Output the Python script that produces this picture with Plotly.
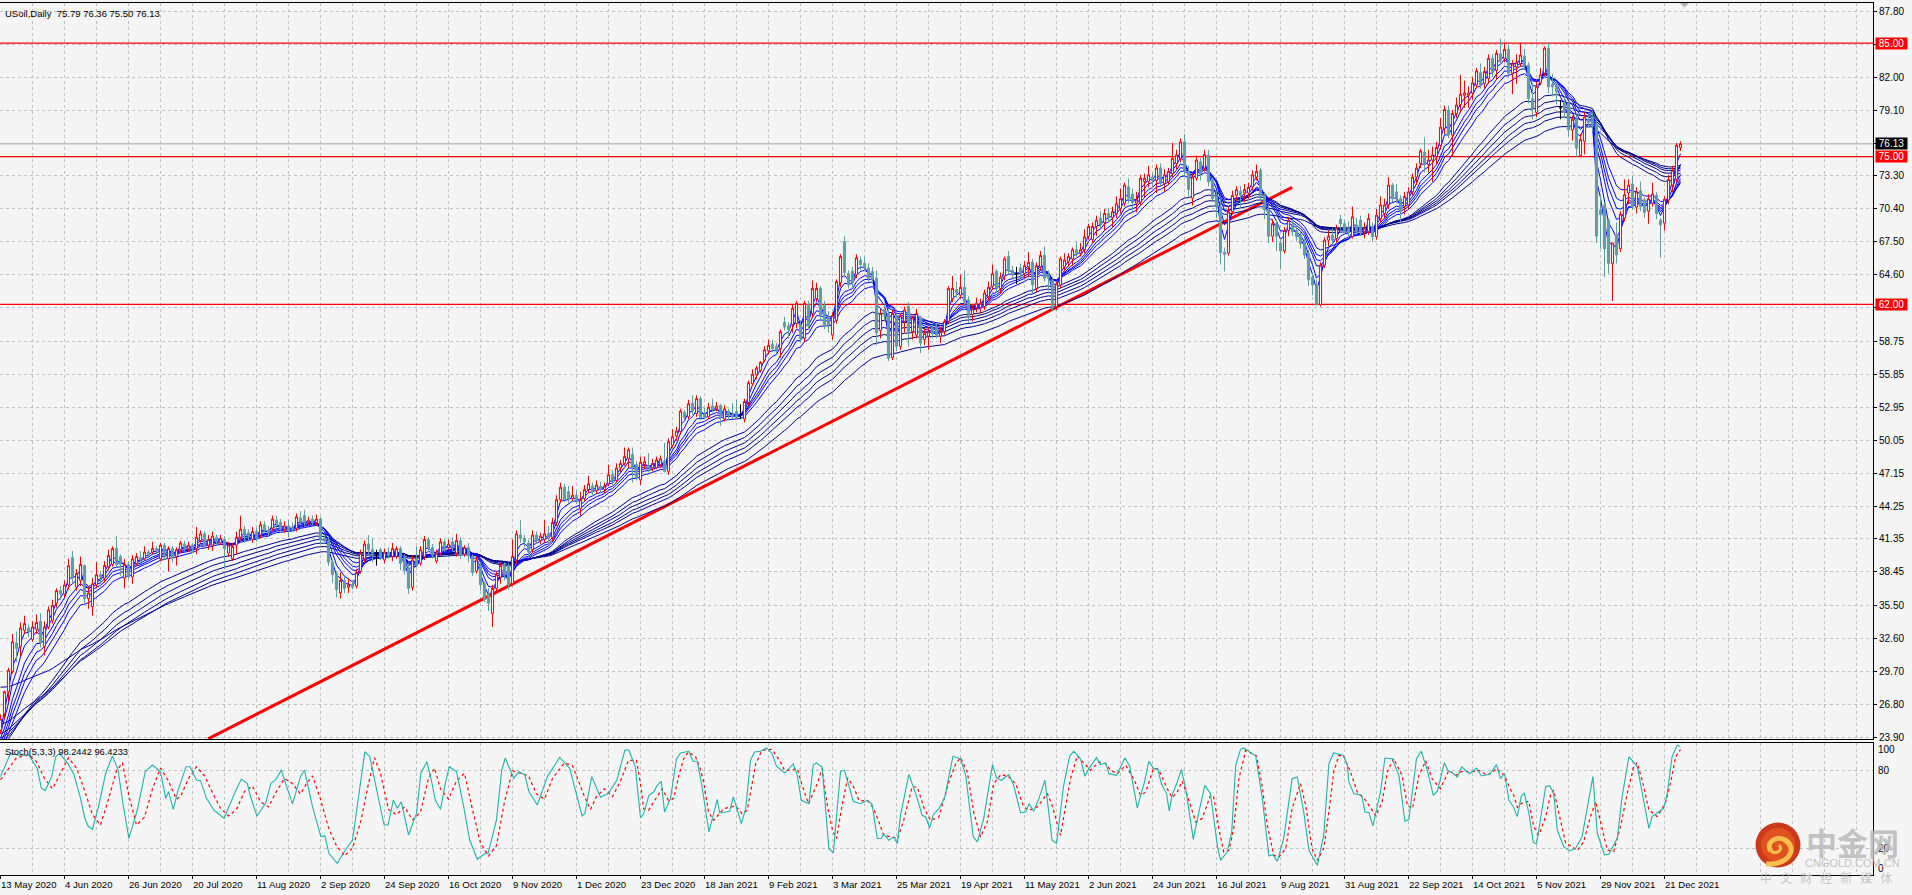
import plotly.graph_objects as go

# Daily USOIL candles, one entry per trading session
opens = [
    24.5,26.0,27.9,29.7,32.2,31.9,33.3,33.5,32.5,33.4,
    34.1,31.9,33.6,34.2,35.7,36.8,36.5,37.3,39.7,37.1,
    37.7,39.0,36.1,35.4,37.3,38.2,37.9,38.9,39.1,40.5,
    39.8,37.9,39.1,38.0,39.2,39.7,39.6,40.2,40.2,40.5,
    39.6,40.8,39.6,40.5,39.8,40.4,40.9,40.5,40.8,40.5,
    41.2,41.8,40.8,40.8,41.5,41.0,41.3,40.1,39.6,40.8,
    41.5,42.2,41.9,41.3,42.0,41.7,42.6,42.1,42.3,43.0,
    42.8,42.2,42.5,42.4,42.3,43.2,43.4,42.8,43.1,42.8,
    43.1,41.4,41.2,39.3,38.3,36.6,37.7,37.1,37.3,37.2,
    38.5,39.6,40.9,40.4,40.0,40.4,39.5,40.2,39.8,39.8,
    40.5,39.7,38.8,37.1,39.6,39.2,39.8,41.3,40.6,39.4,
    40.1,41.1,40.6,41.1,40.1,41.2,40.0,40.6,39.8,38.5,
    39.0,37.4,36.5,34.8,37.0,38.0,39.0,39.0,37.4,39.5,
    41.7,41.4,41.0,40.4,41.7,41.2,41.3,41.8,41.5,42.8,
    44.8,45.9,45.5,44.9,45.2,44.0,44.9,45.7,46.0,45.6,
    46.0,45.7,46.2,47.0,46.5,47.6,48.0,48.45,48.8,47.9,
    46.55,47.9,47.85,47.6,47.6,47.9,48.2,47.3,49.6,50.4,
    50.8,52.5,52.1,53.3,52.4,53.7,52.35,52.1,53.05,52.8,
    53.1,51.9,52.6,52.3,52.55,52.3,51.9,53.35,55.0,55.8,
    56.2,57.1,57.9,58.5,58.3,58.1,60.4,60.1,60.2,60.3,
    60.2,59.0,62.0,61.2,62.5,63.4,61.9,60.9,59.3,60.6,
    63.9,67.5,64.7,64.9,64.6,65.9,65.6,65.2,64.9,64.3,
    59.7,61.5,61.2,57.3,60.9,58.3,60.5,61.8,59.6,59.3,
    60.8,58.9,59.2,59.9,60.0,59.2,59.6,60.5,62.5,63.3,
    62.8,63.5,62.4,61.1,61.7,61.7,61.8,62.7,63.6,64.9,
    63.4,64.5,66.2,65.0,64.7,65.2,64.7,65.3,65.7,63.4,
    65.3,66.3,64.6,64.1,61.8,63.7,65.3,65.8,66.0,66.8,
    66.5,66.8,68.0,67.7,68.85,69.6,69.2,70.0,69.65,70.0,
    70.45,70.9,72.35,71.7,70.9,71.0,72.8,72.8,73.2,72.9,
    74.0,72.65,72.8,73.5,74.4,74.85,76.3,73.7,71.35,73.1,
    74.55,74.0,75.15,72.95,71.5,70.6,66.6,66.5,70.15,71.6,
    71.95,71.8,71.8,72.35,73.2,73.8,71.6,70.3,68.0,69.1,
    67.4,66.7,68.5,69.0,68.5,68.1,67.5,66.5,64.4,63.7,
    61.95,65.45,67.65,68.1,67.8,69.5,69.1,68.7,67.95,69.0,
    69.4,68.4,68.4,68.85,67.95,69.55,70.0,70.75,72.5,71.9,
    71.3,70.6,70.75,71.9,73.2,74.4,75.4,74.3,74.7,75.0,
    76.0,77.5,79.1,76.9,78.8,79.6,80.4,80.4,80.6,81.3,
    82.4,81.45,81.9,83.65,82.6,84.05,83.65,84.45,82.35,82.9,
    83.2,83.85,83.05,80.1,78.9,81.5,82.35,84.55,81.35,81.3,
    79.3,79.8,79.7,77.35,78.3,75.1,76.35,78.3,78.5,77.9,
    70.3,70.75,69.4,65.6,68.1,66.9,69.6,71.8,72.6,70.55,
    72.0,71.2,70.2,70.9,71.6,69.4,69.15,71.2,72.5,73.0,75.79,
]
highs = [
    25.9,28.0,30.0,33.0,33.2,34.0,34.6,33.8,34.1,34.7,
    34.8,34.1,35.4,36.0,37.0,37.2,37.7,39.6,40.3,38.7,
    39.8,39.1,37.2,37.9,39.3,38.5,39.4,40.4,40.7,41.6,
    40.0,39.6,39.4,39.9,40.1,40.3,40.7,40.4,41.1,40.7,
    41.0,41.0,40.7,40.7,40.6,41.2,41.2,41.1,41.0,42.4,
    42.1,42.0,41.7,42.0,41.7,41.7,41.6,41.1,41.0,42.0,
    43.4,42.5,42.2,42.4,42.3,42.9,42.9,42.5,43.4,43.4,
    43.1,42.9,43.0,42.8,43.6,43.8,43.9,43.3,43.4,43.5,
    43.3,41.7,41.6,39.5,38.5,38.4,38.0,37.9,37.6,38.7,
    40.4,41.2,41.7,41.4,40.4,40.6,40.5,40.6,41.0,40.7,
    40.7,40.0,39.2,39.9,40.7,40.7,41.6,41.5,40.9,40.4,
    41.4,41.3,41.3,41.5,41.8,41.5,40.8,41.0,40.0,39.8,
    39.3,37.6,37.0,37.3,38.5,39.2,39.3,39.2,41.3,42.1,
    43.0,41.7,41.3,42.1,42.0,41.9,43.0,42.5,43.2,45.2,
    46.3,46.2,46.0,46.0,45.6,45.5,46.1,46.9,46.3,46.5,
    46.4,46.3,47.9,47.4,48.0,48.3,49.4,49.4,49.4,48.2,
    48.6,48.6,48.9,48.4,48.6,48.7,49.8,50.2,51.0,51.2,
    52.8,52.7,53.6,54.0,54.0,53.9,52.9,53.3,53.7,53.4,
    53.2,53.1,52.8,53.3,53.6,53.2,53.7,55.3,56.3,56.6,
    57.0,58.3,58.9,58.9,58.6,59.8,60.9,60.4,62.0,62.3,
    60.6,62.3,62.3,64.1,63.9,63.6,62.3,61.4,61.3,64.2,
    66.4,68.0,65.0,65.3,66.4,66.2,66.2,65.6,65.3,65.0,
    61.6,62.0,61.5,61.5,61.2,61.2,61.8,62.2,61.0,61.6,
    61.0,59.9,60.0,60.2,60.3,60.0,60.7,63.6,64.5,64.0,
    64.6,65.0,62.7,62.0,62.6,62.5,63.3,64.0,65.5,65.1,
    64.8,66.2,66.7,65.4,65.3,65.6,65.8,66.6,66.0,65.7,
    66.7,67.1,65.0,64.4,64.0,66.2,66.5,66.5,67.0,67.5,
    67.4,68.6,69.1,69.2,69.8,70.2,70.4,70.5,70.6,71.5,
    72.2,72.7,73.1,72.2,71.9,73.4,73.5,74.2,73.6,74.3,
    74.4,73.9,74.0,76.2,75.6,76.6,77.0,74.2,73.5,75.1,
    74.9,75.6,75.6,73.2,72.0,71.3,67.0,70.6,72.0,72.4,
    72.4,72.6,72.7,73.8,74.3,74.0,71.9,70.6,69.5,69.4,
    67.8,68.8,69.7,69.5,69.0,68.4,67.8,66.8,64.8,64.2,
    65.7,67.9,68.5,68.7,69.0,69.9,69.4,69.3,70.6,69.6,
    69.8,69.2,70.0,69.2,70.4,71.5,71.3,73.2,72.7,72.6,
    71.6,71.9,72.3,73.5,74.4,75.7,76.7,75.6,75.9,76.3,
    78.4,79.5,79.5,79.1,80.2,82.2,81.7,81.2,82.0,82.8,
    83.2,82.9,84.0,84.0,84.4,85.4,85.0,84.8,83.5,84.0,
    85.0,84.5,83.3,81.5,81.6,82.8,84.7,85.0,82.3,81.6,
    80.0,80.3,79.9,78.6,78.7,77.0,78.9,78.6,78.9,78.2,
    71.7,71.0,69.6,67.4,69.2,70.2,73.0,73.0,73.3,72.3,
    72.8,71.4,71.7,72.7,71.9,69.6,71.5,73.4,74.2,76.2,76.36,
]
lows = [
    24.2,25.5,27.0,29.5,30.5,31.0,33.0,32.7,32.3,33.0,
    31.8,31.1,33.4,33.9,35.3,36.0,36.2,36.9,37.5,36.8,
    37.2,35.7,35.2,34.6,37.0,37.4,37.5,38.6,38.9,38.8,
    38.1,37.0,37.8,37.4,39.0,39.2,39.5,39.7,40.0,40.0,
    39.4,39.5,38.5,39.3,39.0,40.1,40.3,40.2,40.1,40.0,
    41.0,40.5,40.4,40.3,40.8,40.8,38.7,39.8,39.4,40.0,
    41.2,41.0,41.2,41.0,41.1,41.4,41.9,41.7,42.0,42.3,
    41.9,41.9,41.5,42.0,42.0,42.7,42.5,42.6,42.6,42.5,
    40.9,40.9,39.0,37.5,36.2,36.1,36.6,36.6,36.9,37.0,
    38.3,39.3,40.0,39.3,39.0,39.5,39.2,39.6,39.4,39.6,
    38.6,38.2,36.5,36.8,38.9,39.0,39.5,40.2,39.6,39.2,
    39.9,40.2,40.4,40.3,39.8,39.6,39.8,39.3,38.1,38.3,
    36.8,35.8,35.0,33.6,36.6,37.4,37.7,36.9,37.2,39.1,
    41.0,40.6,39.7,40.1,40.9,40.9,41.0,41.0,41.1,42.5,
    44.5,44.6,44.4,44.7,44.4,43.4,44.7,45.4,45.2,45.3,
    45.4,45.4,46.0,46.1,46.3,47.2,47.8,47.6,46.3,46.5,
    46.1,47.5,47.2,47.3,47.5,47.6,47.2,47.0,49.4,50.0,
    50.5,51.8,51.9,52.3,52.1,51.8,51.9,51.9,52.5,52.6,
    51.3,51.7,51.8,51.9,51.9,51.9,51.6,53.1,54.8,55.4,
    56.0,56.9,57.6,57.8,57.6,57.3,59.7,59.0,59.5,59.9,
    58.6,58.7,59.8,60.8,62.2,60.5,59.8,59.5,58.9,60.3,
    63.5,64.4,63.4,63.5,64.3,65.0,65.0,64.0,63.8,58.4,
    59.0,60.5,57.0,57.1,57.9,58.0,59.5,58.3,58.9,59.0,
    57.7,58.4,58.0,59.0,59.0,58.6,59.3,60.3,62.2,62.6,
    62.5,61.9,60.4,60.5,61.3,61.2,61.5,62.3,63.3,63.0,
    62.9,64.1,64.7,64.2,63.8,64.3,64.3,64.4,63.0,63.1,
    65.0,64.0,63.2,61.4,61.5,63.4,64.9,65.3,65.4,66.2,
    66.2,66.5,67.7,67.4,68.0,68.7,68.5,69.2,68.8,69.6,
    70.0,70.6,70.9,70.1,70.1,70.7,71.4,72.3,72.2,71.8,
    72.3,71.9,72.5,73.2,73.9,74.5,73.4,71.5,70.7,72.9,
    72.9,73.7,72.4,71.0,69.6,65.5,64.9,66.3,69.9,71.1,
    70.5,71.0,71.3,72.0,72.9,71.2,69.5,67.4,67.5,66.7,
    65.1,66.5,68.0,68.0,67.6,66.9,66.0,63.6,62.8,61.9,
    61.8,65.2,67.1,67.2,67.4,68.5,68.2,68.0,67.8,68.2,
    68.0,67.8,68.1,67.5,67.7,69.2,69.6,70.4,71.0,70.9,
    69.2,69.9,70.4,71.6,72.5,74.0,73.6,73.6,72.8,74.3,
    75.6,77.0,76.6,75.0,78.4,78.9,79.3,79.3,80.0,81.0,
    81.0,81.0,81.4,82.0,81.8,83.2,83.3,82.0,80.5,81.4,
    82.9,82.7,79.7,78.3,78.5,81.3,82.1,80.6,80.3,79.6,
    78.3,78.4,76.8,76.4,75.0,75.0,75.2,77.6,77.2,67.4,
    66.9,64.4,64.7,62.3,65.6,66.6,69.3,70.8,70.3,70.0,
    70.2,69.6,69.1,70.6,69.5,66.1,68.5,70.8,71.9,72.7,75.50,
]
closes = [
    25.5,27.9,29.8,32.3,31.7,33.5,33.9,33.2,33.6,34.0,
    32.2,33.6,35.1,35.5,36.8,36.5,37.3,39.0,38.0,38.3,
    39.1,36.1,36.6,37.4,38.2,38.0,39.0,39.9,40.5,39.1,
    39.1,39.1,38.0,39.6,39.8,39.5,40.2,40.0,40.5,40.3,
    40.8,40.1,40.5,39.7,40.4,41.0,40.6,40.8,40.5,41.5,
    41.8,40.8,41.3,41.6,41.1,41.4,40.5,40.8,40.7,41.5,
    42.2,41.8,41.6,42.0,41.4,42.6,42.1,41.9,43.1,42.7,
    42.2,42.5,42.1,42.2,43.3,42.9,42.8,43.0,42.8,43.1,
    41.3,41.2,39.3,38.2,36.9,37.7,37.0,37.3,37.1,38.4,
    40.1,40.9,40.4,40.1,40.0,39.7,40.2,39.9,40.5,40.5,
    39.2,38.6,37.0,39.5,39.1,40.4,41.3,40.6,39.9,40.1,
    41.1,40.6,40.9,40.6,41.2,40.0,40.6,39.9,38.4,39.5,
    37.3,36.0,35.7,37.0,38.2,39.0,38.2,37.3,39.8,41.8,
    41.4,41.1,40.2,41.7,41.2,41.6,41.8,41.4,42.8,44.8,
    45.9,44.8,44.9,45.2,44.7,44.8,45.7,46.2,45.6,46.1,
    45.7,46.0,47.0,46.4,47.6,48.0,48.6,49.2,47.6,46.7,
    48.1,48.15,47.55,48.0,48.3,48.4,47.3,49.9,50.35,50.85,
    52.6,52.05,53.25,52.7,53.7,52.05,52.05,52.95,52.75,53.05,
    52.0,52.8,52.2,52.1,52.05,52.3,53.45,55.1,55.85,56.4,
    56.9,58.0,58.4,58.1,57.9,59.6,60.0,59.8,61.65,62.1,
    59.0,62.1,60.1,63.4,63.4,61.0,60.2,60.2,61.0,64.0,
    66.2,64.8,63.7,63.9,66.1,65.5,65.2,64.3,64.2,59.5,
    61.2,61.0,57.25,61.2,58.3,61.0,61.5,59.6,60.8,61.2,
    58.6,59.45,59.6,59.4,59.3,59.6,60.5,63.4,63.4,63.0,
    63.5,62.2,60.9,61.6,62.1,62.1,63.0,63.5,64.7,63.4,
    64.4,66.0,65.0,64.6,64.7,64.8,65.4,65.7,63.7,65.4,
    66.3,64.3,64.3,61.7,63.8,66.0,65.9,66.2,66.8,66.5,
    66.8,67.95,68.85,68.85,69.4,69.0,70.0,69.65,70.15,70.85,
    71.3,72.5,71.35,70.95,71.2,73.1,73.1,73.4,72.9,74.0,
    72.65,73.4,73.7,74.85,75.15,76.3,73.7,72.1,73.2,74.7,
    73.5,75.2,72.8,71.3,70.6,66.55,66.4,70.15,71.6,72.1,
    71.6,72.1,72.3,73.4,73.7,71.5,70.3,68.0,69.1,68.0,
    66.7,68.5,69.4,68.4,67.95,67.35,66.35,64.15,63.7,61.95,
    65.45,67.65,68.0,67.65,68.7,69.1,68.55,68.4,69.7,68.55,
    68.4,68.7,69.55,67.95,69.85,70.75,70.75,72.5,71.3,71.3,
    70.2,71.5,71.9,73.2,74.0,75.5,74.3,74.7,75.15,75.8,
    77.6,79.15,76.9,78.8,79.55,80.5,80.6,80.6,81.5,82.55,
    81.3,82.5,83.65,82.5,84.1,83.5,84.45,82.35,83.15,83.3,
    83.95,83.05,80.1,79.25,81.15,82.2,84.55,81.15,81.15,80.7,
    79.3,78.95,77.35,78.3,75.75,76.5,78.5,78.0,77.7,68.0,
    69.9,66.9,65.6,67.4,66.35,69.95,71.65,72.5,70.55,71.9,
    70.6,70.1,71.3,71.7,70.0,69.0,71.25,73.0,73.8,76.0,76.13,
]

# Guppy ribbon: exponential averages of the closes, with their values on the first session
fast_periods = [3, 5, 8, 10, 12, 15]
fast_start = [24.5, 24.2, 23.8, 23.4, 23.1, 22.8]
slow_periods = [30, 35, 40, 45, 50, 60]
slow_start = [23.0, 23.4, 23.8, 24.2, 25.0, 28.3]

# Horizontal levels and the rising support line
levels = [85.0, 75.0, 62.0]
last_price = 76.13
trend_bars = [51.9, 322.9]
trend_prices = [23.75, 72.3]

# Price axis ticks
price_ticks = [87.8, 84.9, 82.0, 79.1, 76.2, 73.3, 70.4, 67.5, 64.6, 61.7, 58.75, 55.85,
               52.95, 50.05, 47.15, 44.25, 41.35, 38.45, 35.5, 32.6, 29.7, 26.8, 23.9]
price_tick_text = ["87.80", "", "82.00", "79.10", "", "73.30", "70.40", "67.50", "64.60", "",
                   "58.75", "55.85", "52.95", "50.05", "47.15", "44.25", "41.35", "38.45",
                   "35.50", "32.60", "29.70", "26.80", "23.90"]

# Session labels, one every sixteen bars
date_bars = list(range(0, 417, 16))
date_labels = ["13 May 2020", "4 Jun 2020", "26 Jun 2020", "20 Jul 2020", "11 Aug 2020", "2 Sep 2020",
               "24 Sep 2020", "16 Oct 2020", "9 Nov 2020", "1 Dec 2020", "23 Dec 2020", "18 Jan 2021",
               "9 Feb 2021", "3 Mar 2021", "25 Mar 2021", "19 Apr 2021", "11 May 2021", "2 Jun 2021",
               "24 Jun 2021", "16 Jul 2021", "9 Aug 2021", "31 Aug 2021", "22 Sep 2021", "14 Oct 2021",
               "5 Nov 2021", "29 Nov 2021", "21 Dec 2021"]

# Stochastic %K vertices
stoch_k_bars = [
    0,2.5,4.6,7.1,9.2,10.2,11.2,12.8,13.8,14.8,16.8,18.4,19.9,21.1,21.9,23,24.5,26.3,28,29.4,30.6,32.1,34.2,36.2,38,40,41.3,42,43.2,44.4,46.4,47.4,49,50,51.5,53.3,55.9,58.7,60.2,61.7,62.4,64.1,66.3,67.6,68.9,70.2,71.4,73,75,76,78,80.1,81.1,82.1,84.2,86.2,88,89.8,91.1,92.3,94.4,95.9,96.9,98.2,99.2,100.2,102,104,105.1,106.6,107.7,108.7,110,111.2,112.2,114,115.8,117.3,119.2,120.9,121.9,124,125.3,126.2,128.3,129.6,131.1,132.1,134.2,136.7,139.8,142.3,145.4,146.1,147.8,150,152,154.1,156.1,157.1,158.7,
    160,160.8,162.1,163.3,164.2,165.2,166,167.5,169,170,172.1,173.1,174.2,175.4,177.1,179.2,179.8,182.3,183.2,185.2,186.3,187.5,188.5,190,191.5,192.9,194,196.1,198.2,199.2,200.2,202.1,203.2,204,205.4,207.1,208.2,210,211,213.2,215,216.7,217.9,219.2,220.2,220.8,222.1,223.3,224.2,225,227.1,229.2,230.4,231.3,232.3,233.2,234.6,236,238.1,240,241.3,243.2,244.2,245.8,248,249,250.2,252.1,253.3,255,256.3,257.1,258.3,259.6,261.1,262.9,264,265.8,267.3,
    268.3,270,271.1,272.1,274,275,276.3,277.1,279,281.1,282.3,284.2,286,287.1,288.3,289.3,290.2,291.5,292.2,292.9,294.2,295.2,296.3,298.2,299.6,301.1,302.5,304.2,305,306.7,307.8,308.8,310,310.8,313.8,315.4,317.1,318.1,319.2,320.8,322.9,324.2,325.8,327.1,329.2,330.8,332.1,333.3,335.7,336.7,337.1,338.3,340.3,341.1,342.1,343.1,345,346.1,347.9,349.6,351.1,352.1,354,355.2,356.7,358.2,359.2,361,361.8,362.9,364.2,365.3,367.3,369,370.2,372.3,374,
    375,376,377.1,378.2,379.2,380.2,381,382.1,383.2,384,385,386.3,387.3,388.3,389.2,390.8,392.3,393.8,395.4,396.8,398.1,399.2,401,402.1,404.2,405.4,407.1,409.2,412.1,412.9,414.2,415.8,416.7,417.9,419.2,420,
]
stoch_k_values = [
    75.4,93.4,92,92,81.8,66.4,64.6,75.4,90.8,93.4,85.7,76.7,59.9,43.2,37.2,34.7,52.2,78,91.4,80.5,54.8,27.7,49.6,79.3,84.4,79.3,58.6,63.8,50.1,65,83.1,83.1,72.8,72.3,58.6,49.6,43.2,63.8,73.3,70.2,61.2,45,54.8,70.2,73.3,80.5,69,54.3,75.4,80.5,52.2,29,29.5,16.1,8.4,18.7,26.4,63.8,94.7,90.8,59.9,38,38,57.3,50.9,56,30.3,47,78,87,72.8,57.3,50.1,70.2,83.1,79.3,52.2,26.4,11.5,15.6,16.1,41.9,80.5,89.6,74.1,79.3,76.7,63.8,53.5,75.4,90.3,81.8,45,47,75.4,59.4,62.5,72.8,96,96,83.1,
    43.4,46.8,61,63.5,68.7,71.8,48.1,58.4,89.3,93.7,95,87.3,87.3,67.4,32.6,57.9,47.3,48.6,59.7,39,50.7,88,94.5,95,97.6,93.2,83.4,78.2,85.4,76.4,57.1,54.5,84.7,86,82.9,19.7,16.4,79.5,80.3,56.3,54.5,57.1,54,27.5,27.5,31.3,26.2,28.7,23.6,45.5,77.2,58.4,45.5,44.2,35.7,46,50.7,58.4,91.1,89.3,76.4,28.7,24.9,42.9,84.7,74.4,72.6,77,68.7,47.6,48.1,54.5,48.6,58.4,72.6,26.2,23.6,68.7,91.4,
    95,89.3,75.7,81.6,90.1,84.7,86,77.7,76.4,89.8,83.6,51.2,71.3,87.3,81.6,81.6,70,62.3,48.8,61,71.3,80.8,66.1,26.9,48.1,68.7,62.3,22.3,10.7,17.1,32.6,84.2,96.5,97.6,91.4,59.7,14.1,15.1,9.9,27.5,73.8,75.1,48.1,18.4,6.8,30,85.4,93.7,91.9,84.2,71.3,62.3,61,48.1,47.6,37.3,63.5,89.8,89.3,76.4,40.9,42.4,89.3,95,80.3,61,64.1,86.2,80.3,78.5,75.1,82.9,77.7,82.1,75.9,77.2,84.7,
    73.8,78,57.3,52.2,44.5,60.4,62.5,47,24.6,23.3,41.9,67.7,68.4,62.5,34.1,21.3,17.9,20,29,52.2,75.4,31.6,14.8,15.3,27.7,59.9,90.8,83.1,35.4,44.5,47.6,50.9,62.5,90.8,99.9,98.24,
]

# Stochastic %D vertices
stoch_d_bars = [
    0,2,4,7,9,11,13,15,17,19,21,23,25,27,29,30.5,32,34,36,38,40,42,44,45,47,49,51,53,55,57,59,61,63,65,67,69,71,73,75,76.5,78,80,82,84,86,88,90,92,93.5,95,97,99,101,103,105,107,108.5,110,112,114,116,118,120,122,124,126,128,130,132,134,136,138,141,143,146,147.5,149,151,153,155,157,159,
    160,160.8,162,163.3,165.4,167,168.3,169.6,170.8,172,173.8,174.8,175.8,177,178.3,180.8,183.8,185.4,186.7,188.8,190.4,192.9,195,196,197,199.2,200.4,202,204.2,205.4,206.7,208,209,210.4,211.8,213.3,214.6,217,218.3,219.6,220.8,222.9,224.3,225.8,227.9,229.2,230.8,232.5,234.6,237.1,238.8,240,241.7,243.3,245,246.7,248.3,250.2,252.1,253.8,255.8,257.1,259.2,261.7,262.9,265,267.1,
    267.5,269.2,271.3,272.5,274.6,276.3,277.5,279.2,281.3,283.3,285,286.3,288.3,289.6,291.7,292.9,294.2,295.4,296.7,298.8,300.4,302.5,303.3,304.6,305.8,307.1,308.3,309.6,311.3,314,315.4,316.7,318.3,319.6,321.3,322.9,325,326.3,327.9,329.2,330.8,332.1,333.3,334.6,335.8,337.5,339.2,341.3,343.8,345.4,346.7,348.3,350.4,351.7,353,354.6,356.3,357.9,360,362.1,363.8,365.4,367.5,369.6,371.7,374.2,
    375,376,377.3,378.3,379.2,380.8,382.1,383.3,384.6,386.3,387.5,388.3,389.6,391.3,392.9,394.2,395.8,397.5,398.8,400.4,401.7,403.3,405,406.7,408.3,409.2,410.8,412.1,414.2,416.2,417.5,418.8,420,
]
stoch_d_values = [
    73,82,90,92,87,74,66,78,90,82,65,46,38,58,80,86,62,38,44,66,82,72,58,60,74,83,76,63,51,45,50,64,68,56,52,64,74,70,62,70,76,58,36,22,14,20,40,70,90,78,50,46,52,42,48,74,82,66,58,72,78,50,24,14,22,56,80,78,76,62,58,74,86,84,60,50,60,66,60,72,88,88,
    70,50.6,49.4,55.8,66,57,58.4,76.4,89.3,94.5,90.6,82.9,71.3,48,41.6,50.7,52.7,46.8,49.4,85.4,95.8,96.5,86.7,80.3,80.3,81.6,68.7,54.5,70,81.6,53.2,33.9,27.5,53.2,74.4,67.4,57.1,56.3,50.7,40.3,30,28.7,27.5,41.6,67.4,67.4,51.9,41.6,44.2,71.3,85.4,90.1,79,48.1,28.7,40.3,70,77.2,75.1,70,51.9,49.4,51.9,62.3,53.2,30,68.7,
    73.8,91.4,84.2,80.3,86.7,85.4,80.3,77.7,84.2,73.8,61,63.5,82.1,80.3,66.1,59.2,63.5,71.8,61,40.3,43,61,59.7,35.2,17.1,18.4,35.2,73.8,95.8,91.4,68.7,37.8,14.6,13.3,19.7,50.7,70,53.2,19.7,10.7,19.7,48.1,79,91.9,91.4,79,63.5,57.1,45,55.8,79,89.3,76.4,53.2,50.7,76.4,87.5,73.8,66.1,80.3,76.4,79.5,79,80.3,76.4,81.6,
    78.5,76.7,66.4,61.2,51.7,56.1,56.1,36.7,30.3,44.5,61.2,65.1,47,23.8,21.3,18.2,25.1,44.5,56.1,36.7,18.7,17.4,36.7,62.5,83.1,86.2,67.7,49.6,44.5,54.8,70.2,90.8,96.42,
]

WIDTH, HEIGHT = 1912, 895
BACKGROUND = "#f5f5f5"
GRID = "#c0c0c0"
BULL = "#ff0000"
BEAR = "#5f9ea0"


def px_x(x):
    return x / WIDTH


def px_y(y):
    return 1 - y / HEIGHT


def ema(values, period, start):
    """Exponential moving average seeded with its value on the first bar."""
    k = 2 / (period + 1)
    out = [start]
    for value in values[1:]:
        out.append(value * k + out[-1] * (1 - k))
    return out


for name, series in (("opens", opens), ("highs", highs), ("lows", lows)):
    if len(series) != len(closes):
        raise ValueError(f"{name}: {len(series)} != {len(closes)}")
for a, b in ((stoch_k_bars, stoch_k_values), (stoch_d_bars, stoch_d_values)):
    if len(a) != len(b):
        raise ValueError(f"stochastic lengths {len(a)} != {len(b)}")

bars = list(range(len(closes)))
# Half a pixel of lead-in keeps the 1px wicks on whole pixel columns
x_start = -0.125
x_end = x_start + 1873 / 4

fig = go.Figure()

# Levels, last-price line and support line sit under the ribbon
for level in levels:
    fig.add_trace(go.Scatter(x=[x_start, x_end], y=[level, level], mode="lines",
                             line=dict(color=BULL, width=1.2), xaxis="x", yaxis="y"))
fig.add_trace(go.Scatter(x=[x_start, x_end], y=[last_price, last_price], mode="lines",
                         line=dict(color="#c0c0c0", width=1.5), xaxis="x", yaxis="y"))
fig.add_trace(go.Scatter(x=trend_bars, y=trend_prices, mode="lines",
                         line=dict(color=BULL, width=3), xaxis="x", yaxis="y"))

for period, start in zip(slow_periods, slow_start):
    fig.add_trace(go.Scatter(x=bars, y=ema(closes, period, start), mode="lines",
                             line=dict(color="#00008b", width=1), xaxis="x", yaxis="y"))
for period, start in zip(fast_periods, fast_start):
    fig.add_trace(go.Scatter(x=bars, y=ema(closes, period, start), mode="lines",
                             line=dict(color="#0000ff", width=1), xaxis="x", yaxis="y"))

# Candles go on an overlaid subplot so they stay in front of the ribbon
moving = [i for i in bars if opens[i] != closes[i]]
doji = [i for i in bars if opens[i] == closes[i]]
fig.add_trace(go.Candlestick(
    x=moving,
    open=[opens[i] for i in moving], high=[highs[i] for i in moving],
    low=[lows[i] for i in moving], close=[closes[i] for i in moving],
    increasing=dict(line=dict(color=BULL, width=1), fillcolor=BACKGROUND),
    decreasing=dict(line=dict(color=BEAR, width=1), fillcolor=BEAR),
    xaxis="x3", yaxis="y3", whiskerwidth=0,
))
fig.add_trace(go.Candlestick(
    x=doji,
    open=[opens[i] for i in doji], high=[highs[i] for i in doji],
    low=[lows[i] for i in doji], close=[closes[i] for i in doji],
    increasing=dict(line=dict(color="#000000", width=1), fillcolor="#000000"),
    decreasing=dict(line=dict(color="#000000", width=1), fillcolor="#000000"),
    xaxis="x3", yaxis="y3", whiskerwidth=0,
))

# Stochastic panel
fig.add_trace(go.Scatter(x=stoch_d_bars, y=stoch_d_values, mode="lines",
                         line=dict(color=BULL, width=1.2, dash="3px,3px"), xaxis="x2", yaxis="y2"))
fig.add_trace(go.Scatter(x=stoch_k_bars, y=stoch_k_values, mode="lines",
                         line=dict(color="#20b2aa", width=1.1), xaxis="x2", yaxis="y2"))

grid_bars = list(range(0, int(x_end) + 1, 8))
minor_bars = [b for b in grid_bars if b not in date_bars]
main_domain_y = [px_y(739), px_y(2.5)]
stoch_domain_y = [px_y(875), px_y(742.5)]
domain_x = [0, 1873 / WIDTH]
price_range = [23.74, 88.57]
axis_font = dict(family="Liberation Sans", size=10, color="#000000")

dashed = dict(griddash="3px,3px", gridcolor=GRID, gridwidth=1)

annotations = []
for bar, label in zip(date_bars, date_labels):
    annotations.append(dict(x=bar, xref="x2", y=px_y(884), yref="paper", text=label, showarrow=False,
                            xanchor="left", yanchor="middle", xshift=-2,
                            font=dict(family="Liberation Sans", size=9.6, color="#000000")))
for value, label, y in ((100, "100", 749), (80, "80", 770.5), (20, "20", 848), (0, "0", 868)):
    annotations.append(dict(x=px_x(1876), xref="paper", y=px_y(y), yref="paper", text=label,
                            showarrow=False, xanchor="left", yanchor="middle", font=axis_font))

# Value tags on the price scale
for value, color in ((85.0, BULL), (75.0, BULL), (62.0, BULL), (last_price, "#000000")):
    annotations.append(dict(x=px_x(1875), xref="paper", y=value, yref="y", text=f"{value:.2f}",
                            showarrow=False, xanchor="left", yanchor="middle", width=31, height=11,
                            bgcolor=color, borderpad=0, align="center",
                            font=dict(family="Liberation Sans", size=10, color="#ffffff")))

annotations.append(dict(x=px_x(3), xref="paper", y=px_y(13), yref="paper", showarrow=False,
                        text="USoil,Daily\u00a0\u00a075.79 76.36 75.50 76.13",
                        xanchor="left", yanchor="middle",
                        font=dict(family="Liberation Sans", size=9.5, color="#000000")))
annotations.append(dict(x=px_x(3), xref="paper", y=px_y(752), yref="paper", showarrow=False,
                        text="Stoch(5,3,3) 98.2442 96.4233",
                        xanchor="left", yanchor="middle",
                        font=dict(family="Liberation Sans", size=9.3, color="#000000")))

# Publisher mark
annotations.append(dict(x=px_x(1852), xref="paper", y=px_y(841), yref="paper", showarrow=False,
                        text="<b>中金网</b>", xanchor="center", yanchor="middle",
                        font=dict(family="Noto Sans CJK SC", size=31, color="rgba(185,185,185,0.85)")))
annotations.append(dict(x=px_x(1852), xref="paper", y=px_y(863), yref="paper", showarrow=False,
                        text="CNGOLD.COM.CN", xanchor="center", yanchor="middle",
                        font=dict(family="Liberation Sans", size=11, color="rgba(185,185,185,0.9)")))
annotations.append(dict(x=px_x(1826), xref="paper", y=px_y(877), yref="paper", showarrow=False,
                        text="中\u00a0\u00a0\u00a0文\u00a0\u00a0\u00a0财\u00a0\u00a0\u00a0经\u00a0\u00a0\u00a0新\u00a0\u00a0\u00a0媒\u00a0\u00a0\u00a0体",
                        xanchor="center", yanchor="middle",
                        font=dict(family="Noto Sans CJK SC", size=12, color="rgba(190,190,190,0.9)")))


def path(points):
    """SVG path in paper coordinates from (command, x, y, ...) runs given in pixels."""
    parts = []
    for run in points:
        command, coords = run[0], run[1:]
        pairs = [f"{px_x(coords[i]):.5f},{px_y(coords[i + 1]):.5f}" for i in range(0, len(coords), 2)]
        parts.append(command + " " + " ".join(pairs))
    return " ".join(parts)


def circle(cx, cy, r, fill):
    return dict(type="circle", xref="paper", yref="paper", x0=px_x(cx - r), x1=px_x(cx + r),
                y0=px_y(cy + r), y1=px_y(cy - r), fillcolor=fill, line=dict(width=0), layer="above")


shapes = [
    dict(type="path", xref="paper", yref="paper", layer="above", fillcolor="#b4b4b4", line=dict(width=0),
         path=path([("M", 1680, 3), ("L", 1689, 3), ("L", 1684.5, 7.5)]) + " Z"),
    circle(1778, 845, 22.5, "#cc3a1c"),
    circle(1778, 845, 17, "#e0521f"),
    dict(type="path", xref="paper", yref="paper", layer="above", line=dict(color="#f7c04e", width=5),
         path=path([("M", 1771, 851), ("C", 1765, 843, 1776, 835, 1785, 840),
                    ("C", 1798, 848, 1790, 865, 1766, 864)])),
    dict(type="path", xref="paper", yref="paper", layer="above", line=dict(color="#f7c04e", width=3),
         path=path([("M", 1771, 851), ("C", 1776, 855, 1784, 850, 1779, 845)])),
]

fig.update_layout(
    template="none",
    width=WIDTH, height=HEIGHT, margin=dict(l=0, r=0, t=0, b=0, pad=0, autoexpand=False),
    plot_bgcolor=BACKGROUND, paper_bgcolor=BACKGROUND,
    showlegend=False, hovermode=False, boxgap=0.25,
    xaxis=dict(domain=domain_x, range=[x_start, x_end], anchor="y", tickmode="array", tickvals=grid_bars,
               showticklabels=False, ticks="", showgrid=True, zeroline=False, automargin=False,
               showline=True, mirror=True, linecolor="#000000", linewidth=1, **dashed),
    yaxis=dict(domain=main_domain_y, range=price_range, anchor="x", side="right", tickmode="array",
               tickvals=price_ticks, ticktext=price_tick_text, ticks="outside", ticklen=3, tickwidth=1,
               tickcolor="#000000", tickfont=axis_font, showgrid=True, zeroline=False, automargin=False,
               showline=True, linecolor="#000000", linewidth=1, **dashed),
    xaxis2=dict(domain=domain_x, range=[x_start, x_end], anchor="y2", tickmode="array", tickvals=date_bars,
                ticktext=[""] * len(date_bars), ticks="outside", ticklen=3, tickwidth=1, tickcolor="#000000",
                showgrid=True, zeroline=False, showline=True, mirror=True, linecolor="#000000", linewidth=1,
                automargin=False,
                minor=dict(tickmode="array", tickvals=minor_bars, showgrid=True, griddash="3px,3px",
                           gridcolor=GRID, gridwidth=1, ticks=""),
                **dashed),
    yaxis2=dict(domain=stoch_domain_y, range=[-0.67, 101.8], anchor="x2", side="right", tickmode="array",
                tickvals=[20, 80], showticklabels=False, ticks="", showgrid=True, zeroline=False,
                automargin=False, showline=True, linecolor="#000000", linewidth=1, **dashed),
    xaxis3=dict(domain=domain_x, range=[x_start, x_end], anchor="y3", overlaying="x", visible=False,
                automargin=False, rangeslider=dict(visible=False)),
    yaxis3=dict(domain=main_domain_y, range=price_range, anchor="x3", overlaying="y", visible=False,
                automargin=False),
    annotations=annotations,
    shapes=shapes,
)

fig.write_html("out.html", config=dict(displayModeBar=False))
